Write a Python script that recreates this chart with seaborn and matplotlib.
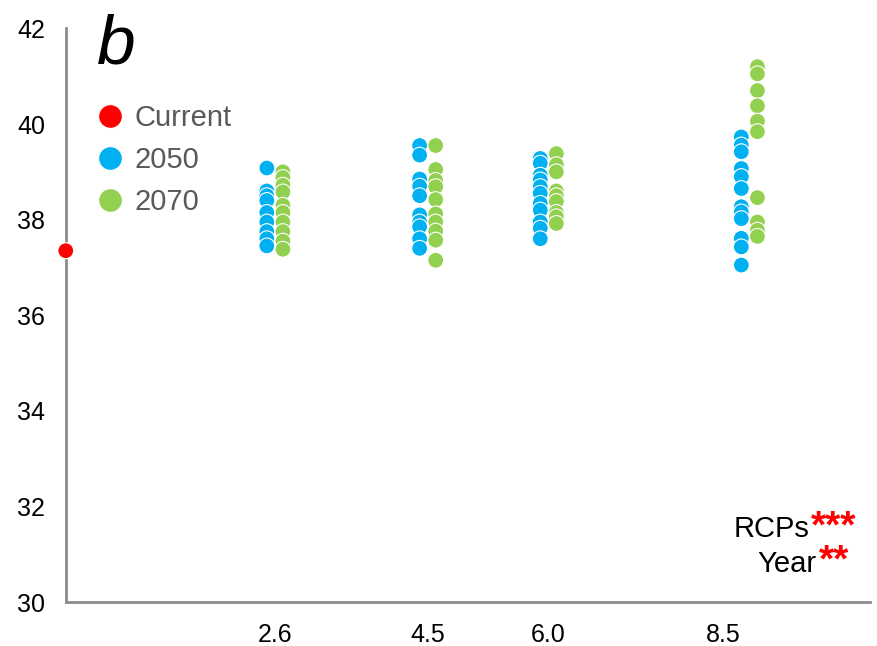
import numpy as np
import pandas as pd
import matplotlib
matplotlib.use("Agg")
import matplotlib.pyplot as plt
import seaborn as sns

# values
rcps = [2.6, 4.5, 6.0, 8.5]
tick_pos = [2.6, 4.5, 6.0, 8.17]
tick_labels = ["2.6", "4.5", "6.0", "8.5"]

current = 37.35

y2050 = {
    2.6: [39.08, 38.6, 38.5, 38.4, 38.15, 37.95, 37.75, 37.6, 37.45],
    4.5: [39.55, 39.35, 38.85, 38.7, 38.5, 38.1, 37.95, 37.85, 37.6, 37.4],
    6.0: [39.28, 39.18, 38.93, 38.83, 38.69, 38.55, 38.34, 38.2, 37.95, 37.82, 37.6],
    8.5: [39.73, 39.56, 39.42, 39.07, 38.9, 38.65, 38.27, 38.16, 38.02, 37.61, 37.43, 37.05],
}
y2070 = {
    2.6: [39.0, 38.88, 38.72, 38.58, 38.3, 38.15, 37.95, 37.75, 37.55, 37.38],
    4.5: [39.55, 39.05, 38.82, 38.69, 38.42, 38.12, 37.95, 37.76, 37.57, 37.15],
    6.0: [39.38, 39.15, 39.0, 38.6, 38.5, 38.38, 38.15, 38.06, 37.92],
    8.5: [41.2, 41.05, 40.7, 40.38, 40.06, 39.84, 38.46, 37.95, 37.78, 37.65],
}

rows = [{"x": 0.0, "val": current, "grp": "Current"}]
for r in rcps:
    for v in y2050[r]:
        rows.append({"x": r - 0.1, "val": v, "grp": "2050"})
    for v in y2070[r]:
        rows.append({"x": r + 0.1, "val": v, "grp": "2070"})
df = pd.DataFrame(rows)

sns.set_style("white")
plt.rcParams["font.family"] = ["Liberation Sans", "DejaVu Sans"]

fig = plt.figure(figsize=(8.77, 6.46), dpi=100)
ax = fig.add_axes([0.075, 0.068, 0.917, 0.888])

pal = {"Current": "#FF0000", "2050": "#00B0F0", "2070": "#92D050"}
sns.scatterplot(data=df, x="x", y="val", hue="grp", hue_order=["Current", "2050", "2070"],
                palette=pal, s=130, edgecolor="white", linewidth=0.8, clip_on=False,
                zorder=3, ax=ax)

ax.set_xlim(0, 10)
ax.set_ylim(30, 42)
ax.set_yticks(np.arange(30, 43, 2))
ax.set_xticks(tick_pos)
ax.set_xticklabels(tick_labels)
ax.set_xlabel("")
ax.set_ylabel("")

for s in ["top", "right"]:
    ax.spines[s].set_visible(False)
for s in ["left", "bottom"]:
    ax.spines[s].set_color("#8c8c8c")
    ax.spines[s].set_linewidth(2)
ax.tick_params(axis="both", colors="#8c8c8c", width=1.5, length=6, labelsize=18,
               labelcolor="black", direction="out")
ax.tick_params(axis="y", pad=9)
ax.tick_params(axis="x", pad=9)

ax.text(0.37, 41.27, "b", fontsize=50, style="italic", va="baseline", ha="left",
        color="black")

leg = ax.legend(loc="upper left", bbox_to_anchor=(0.096, 0.862), bbox_transform=fig.transFigure,
                frameon=False, fontsize=21, borderpad=0, handlelength=0.8,
                handletextpad=0.42, labelspacing=0.48, markerscale=1.5)
for t in leg.get_texts():
    t.set_color("#595959")

# significance notes, lower right
ax.text(9.25, 31.36, "RCPs", fontsize=21, ha="right", va="baseline", color="black")
ax.text(9.27, 31.36, "***", fontsize=28, ha="left", va="baseline", color="red", fontweight="bold")
ax.text(9.34, 30.63, "Year", fontsize=21, ha="right", va="baseline", color="black")
ax.text(9.36, 30.63, "**", fontsize=28, ha="left", va="baseline", color="red", fontweight="bold")

fig.savefig("out.png", dpi=100)
